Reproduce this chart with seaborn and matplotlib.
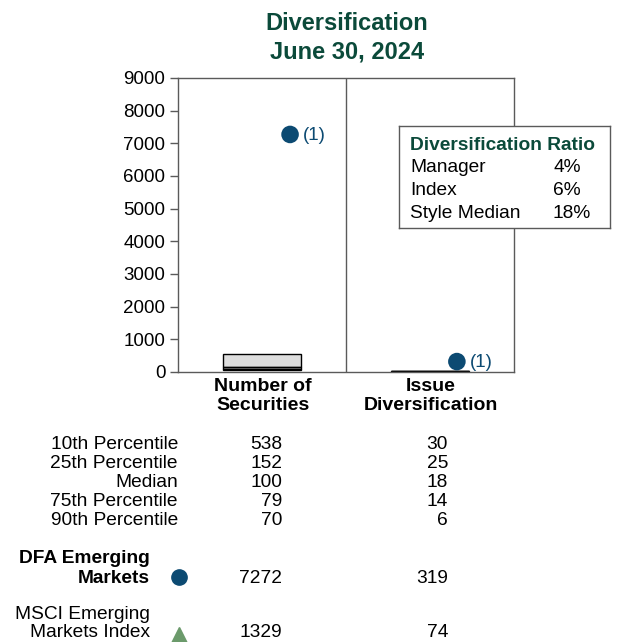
import numpy as np
import pandas as pd
import matplotlib
matplotlib.use("Agg")
import matplotlib.pyplot as plt
import seaborn as sns

# Chart data
categories = [["Number of", "Securities"], ["Issue", "Diversification"]]
pct_labels = ["10th Percentile", "25th Percentile", "Median", "75th Percentile", "90th Percentile"]
securities_pct = [538, 152, 100, 79, 70]
issue_pct = [30, 25, 18, 14, 6]
manager_name = ["DFA Emerging", "Markets"]
manager_values = [7272, 319]
index_name = ["MSCI Emerging", "Markets Index"]
index_values = [1329, 74]
ratio_labels = ["Manager", "Index", "Style Median"]
ratio_values = ["4%", "6%", "18%"]
y_ticks = [0, 1000, 2000, 3000, 4000, 5000, 6000, 7000, 8000, 9000]

GREEN = "#0b4a3a"
BLUE = "#0c4a72"
TRI = "#6b9a6b"
FRAME = "#5a5a5a"
FS = 13.8
DY = 1.5  # small vertical nudge for text placement

sns.set_style("white")
plt.rcParams["font.family"] = ["Liberation Sans", "DejaVu Sans"]
plt.rcParams["text.color"] = "black"
plt.rcParams["ytick.labelcolor"] = "black"

W, H = 618, 642
fig = plt.figure(figsize=(W / 100, H / 100), dpi=100)


def fx(px):
    return px / W


def fy(py):
    return 1 - (py + DY) / H


ax = fig.add_axes([fx(178), 1 - 372 / H, fx(514) - fx(178), (372 - 78) / H])
ax.set_xlim(0, 2)
ax.set_ylim(0, 9000)

# floating percentile boxes, one segment per percentile band
for i, pcts in enumerate([securities_pct, issue_pct]):
    for top, bot in zip(pcts[:-1], pcts[1:]):
        ax.bar(i + 0.5, top - bot, bottom=bot, width=0.46,
               color="#dedede", edgecolor="black", linewidth=1.0, zorder=2)

# manager dots
dots = pd.DataFrame({"x": [0.667, 1.66], "y": manager_values})
sns.scatterplot(data=dots, x="x", y="y", ax=ax, color=BLUE, s=160,
                edgecolor="none", zorder=4, legend=False)
for x, y in zip(dots["x"], dots["y"]):
    ax.annotate("(1)", (x, y), xytext=(9, -1), textcoords="offset points",
                va="center", ha="left", fontsize=13.5, color=BLUE)

ax.axvline(1, color=FRAME, linewidth=1.0, zorder=1)
ax.set_yticks(y_ticks)
ax.set_yticklabels([str(t) for t in y_ticks])
ax.set_xticks([])
ax.set_xlabel("")
ax.set_ylabel("")
ax.tick_params(axis="y", direction="out", length=6, width=1, color=FRAME,
               pad=3, labelsize=13.5, left=True, labelcolor="black")
for sp in ax.spines.values():
    sp.set_color(FRAME)
    sp.set_linewidth(1.0)

# title
fig.text(fx(347), fy(22), "Diversification", ha="center", va="center",
         fontsize=17, fontweight="bold", color=GREEN)
fig.text(fx(347), fy(50), "June 30, 2024", ha="center", va="center",
         fontsize=17, fontweight="bold", color=GREEN)

# category labels
for cx, lines in zip([263, 431], categories):
    for k, line in enumerate(lines):
        fig.text(fx(cx), fy(385 + k * 19), line, ha="center", va="center",
                 fontsize=14, fontweight="bold")

# diversification ratio box
box_ax = fig.add_axes([fx(399), 1 - 228 / H, fx(610) - fx(399), (228 - 126) / H])
box_ax.set_xticks([])
box_ax.set_yticks([])
box_ax.set_facecolor("white")
for sp in box_ax.spines.values():
    sp.set_color(FRAME)
    sp.set_linewidth(1.0)
fig.text(fx(410), fy(144), "Diversification Ratio", ha="left", va="center",
         fontsize=FS, fontweight="bold", color=GREEN)
for j, (lab, val) in enumerate(zip(ratio_labels, ratio_values)):
    yy = 166 + j * 23
    fig.text(fx(410), fy(yy), lab, ha="left", va="center", fontsize=FS)
    fig.text(fx(553), fy(yy), val, ha="left", va="center", fontsize=FS)

# percentile table
for j, lab in enumerate(pct_labels):
    yy = 443 + j * 19
    fig.text(fx(178), fy(yy), lab, ha="right", va="center", fontsize=FS)
    fig.text(fx(282), fy(yy), str(securities_pct[j]), ha="right", va="center", fontsize=FS)
    fig.text(fx(448), fy(yy), str(issue_pct[j]), ha="right", va="center", fontsize=FS)

# manager / index rows
for k, line in enumerate(manager_name):
    fig.text(fx(150), fy(557 + k * 20), line, ha="right", va="center",
             fontsize=FS, fontweight="bold")
fig.text(fx(282), fy(577), str(manager_values[0]), ha="right", va="center", fontsize=FS)
fig.text(fx(448), fy(577), str(manager_values[1]), ha="right", va="center", fontsize=FS)
# last row sits right on the bottom edge, keep it just inside
for k, line in enumerate(index_name):
    fig.text(fx(150), fy(613 + k * 18), line, ha="right", va="center", fontsize=FS)
fig.text(fx(282), fy(631), str(index_values[0]), ha="right", va="center", fontsize=FS)
fig.text(fx(448), fy(631), str(index_values[1]), ha="right", va="center", fontsize=FS)

fig.lines.append(plt.Line2D([fx(179)], [1 - 577 / H], marker="o", markersize=11,
                            color=BLUE, linestyle="none", transform=fig.transFigure))
fig.lines.append(plt.Line2D([fx(179)], [1 - 635 / H], marker="^", markersize=11,
                            color=TRI, linestyle="none", transform=fig.transFigure))

fig.savefig("out.png", dpi=100)
